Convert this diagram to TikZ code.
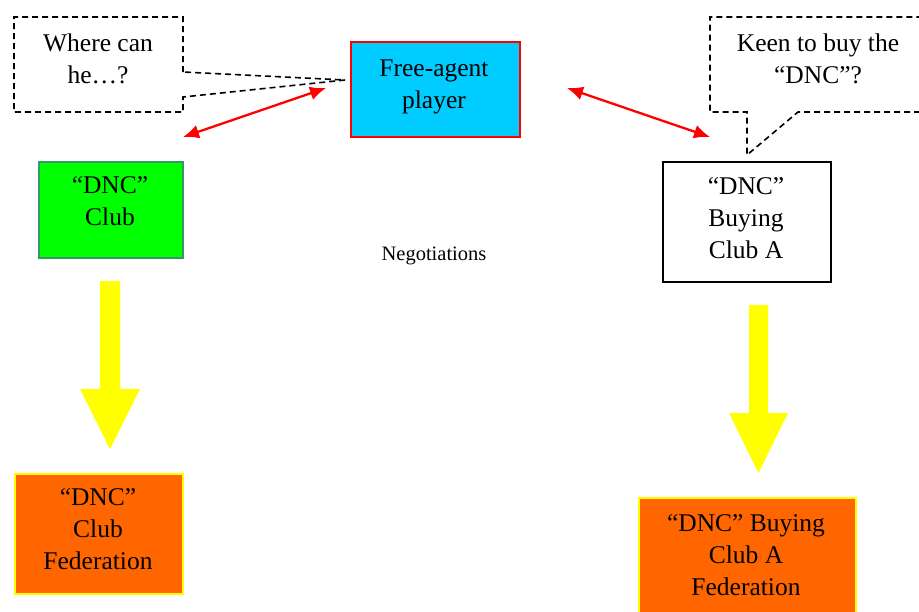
\documentclass[tikz,border=0pt]{standalone}
\usepackage{fontspec}
\setmainfont{Liberation Serif}
\usetikzlibrary{arrows.meta}
\definecolor{fcyan}{HTML}{00CCFF}
\definecolor{fgreen}{HTML}{00FF00}
\definecolor{fgreenline}{HTML}{339966}
\definecolor{forange}{HTML}{FF6600}
\definecolor{fyellow}{HTML}{FFFF00}
\definecolor{fred}{HTML}{FF0000}
\tikzset{
  boxbase/.style={rectangle, inner sep=0pt, line width=2pt, anchor=north west},
  txt/.style={align=center, inner sep=0pt, font=\fontsize{25.5}{32}\selectfont},
  callout/.style={draw=black, line width=1.6pt, dash pattern=on 6pt off 4pt},
  redarrow/.style={draw=fred, line width=2.3pt, {Latex[length=16pt,width=14pt]}-{Latex[length=16pt,width=14pt]}},
  bigarrow/.style={fill=fyellow, draw=none}
}
\begin{document}
\begin{tikzpicture}[x=1pt,y=-1pt]
\useasboundingbox (0,0) rectangle (919,611);
\clip (0,0) rectangle (919,611);
% boxes
\node[boxbase, draw=fred, fill=fcyan, minimum width=169pt, minimum height=95pt] (fa) at (350,41) {};
\node[txt] (fatxt) at (434,87) {Free-agent\\player};
\node[boxbase, draw=fgreenline, fill=fgreen, minimum width=144pt, minimum height=96pt] (dnc) at (38,161) {};
\node[txt] (dnctxt) at (110,201) {“DNC”\\Club};
\node[boxbase, draw=black, fill=white, minimum width=168pt, minimum height=120pt] (buy) at (662,161) {};
\node[txt] (buytxt) at (746,218) {“DNC”\\Buying\\Club A};
\node[boxbase, draw=fyellow, fill=forange, minimum width=168pt, minimum height=120pt] (fedl) at (14,473) {};
\node[txt] (fedltxt) at (98,529) {“DNC”\\Club\\Federation};
\node[boxbase, draw=fyellow, fill=forange, minimum width=217pt, minimum height=130pt] (fedr) at (638,497) {};
\node[txt] (fedrtxt) at (746,555) {“DNC” Buying\\Club A\\Federation};
\node[inner sep=0pt, font=\fontsize{20.5}{24}\selectfont] (neg) at (434,256) {Negotiations};
% callouts
\coordinate (tipL) at (345,80);
\draw[callout] (183,72) -- (183,17) -- (14,17) -- (14,112) -- (183,112) -- (183,97) -- (tipL) -- cycle;
\node[txt] (wtxt) at (98,59) {Where can\\he…?};
\coordinate (tipR) at (747,155);
\draw[callout] (930,112) -- (798,112) -- (tipR) -- (747,112) -- (710,112) -- (710,17) -- (930,17);
\node[txt] (ktxt) at (818,59) {Keen to buy the\\“DNC”?};
% red double arrows
\coordinate (a1s) at (183,137);
\coordinate (a1e) at (326,88);
\draw[redarrow] (a1s) -- (a1e);
\coordinate (a2s) at (567,88);
\coordinate (a2e) at (710,137);
\draw[redarrow] (a2s) -- (a2e);
% yellow block arrows
\fill[bigarrow] (100,281) -- (120,281) -- (120,389) -- (140,389) -- (110,449) -- (80,389) -- (100,389) -- cycle;
\fill[bigarrow] (749,305) -- (768,305) -- (768,413) -- (788,413) -- (758.5,473) -- (729,413) -- (749,413) -- cycle;
\end{tikzpicture}
\end{document}
